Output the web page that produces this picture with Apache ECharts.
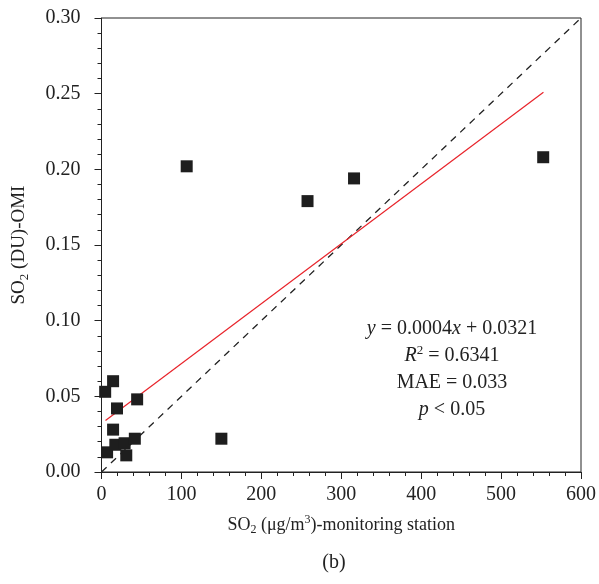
<!DOCTYPE html>
<html><head><meta charset="utf-8">
<script src="https://cdn.jsdelivr.net/npm/echarts@6/dist/echarts.min.js"></script>
<style>html,body{margin:0;padding:0;background:#fff}#c{width:599px;height:584px}</style>
</head><body><div id="c"></div>
<script>
// Observations: SO2 monitoring station (µg/m3) vs OMI SO2 (DU)
const stationX = [106.6, 257.8, 316, 552.7, 150, 14.5, 4.6, 44.6, 19.4, 14.5, 7, 17.3, 28.9, 31, 41.7];
const omiY     = [0.202, 0.179, 0.194, 0.208, 0.022, 0.060, 0.053, 0.048, 0.042, 0.028, 0.013, 0.018, 0.019, 0.011, 0.022];
// regression line endpoints (y = 0.0004x + 0.0321 as drawn)
const fitX = [5, 553];
const fitY = [0.034, 0.251];
// 1:1 reference line endpoints
const refX = [0, 600];
const refY = [0, 0.30];
const xTicks = [0, 100, 200, 300, 400, 500, 600];
const yTicks = [0.00, 0.05, 0.10, 0.15, 0.20, 0.25, 0.30];

const FONT = 'Liberation Serif';
const chart = echarts.init(document.getElementById('c'), null, {renderer: 'canvas'});
const pts = stationX.map((x, i) => [x, omiY[i]]);
const axisCommon = {
  axisLine: {show: true, onZero: false, lineStyle: {color: '#222', width: 1}},
  axisTick: {show: true, inside: false, length: 7, lineStyle: {color: '#222'}},
  minorTick: {show: true, splitNumber: 5, length: 4, lineStyle: {color: '#222'}},
  splitLine: {show: false},
  axisLabel: {color: '#222', fontFamily: FONT, fontSize: 20}
};
chart.setOption({
  animation: false,
  grid: {left: 101, right: 15, top: 18, bottom: 112, show: true, borderColor: '#222', borderWidth: 1},
  xAxis: Object.assign({}, axisCommon, {
    type: 'value', min: xTicks[0], max: xTicks[xTicks.length - 1], interval: 100,
    axisLabel: Object.assign({}, axisCommon.axisLabel, {margin: 13}),
    name: '{n|SO}{sub|2}{n| (μg/m}{sup|3}{n|)-monitoring station}',
    nameLocation: 'middle', nameGap: 42,
    nameTextStyle: {rich: {
      n: {fontFamily: FONT, fontSize: 18, color: '#222', lineHeight: 22},
      sub: {fontFamily: FONT, fontSize: 12, color: '#222', lineHeight: 22, padding: [10, 0, 0, 0]},
      sup: {fontFamily: FONT, fontSize: 12, color: '#222', lineHeight: 22, padding: [0, 0, 10, 0]}
    }}
  }),
  yAxis: Object.assign({}, axisCommon, {
    type: 'value', min: yTicks[0], max: yTicks[yTicks.length - 1], interval: 0.05,
    axisLabel: Object.assign({}, axisCommon.axisLabel, {margin: 21, formatter: v => v.toFixed(2)}),
    name: '{n|SO}{sub|2}{n| (DU)-OMI}',
    nameLocation: 'middle', nameGap: 71, nameRotate: 90,
    nameTextStyle: {rich: {
      n: {fontFamily: FONT, fontSize: 19, color: '#222', lineHeight: 22},
      sub: {fontFamily: FONT, fontSize: 13, color: '#222', lineHeight: 22, padding: [10, 0, 0, 0]}
    }}
  }),
  series: [
    {type: 'line', data: refX.map((x, i) => [x, refY[i]]), symbol: 'none',
     lineStyle: {color: '#222', width: 1.3, type: [7, 6]}, z: 2},
    {type: 'line', data: fitX.map((x, i) => [x, fitY[i]]), symbol: 'none',
     lineStyle: {color: '#e8242b', width: 1.2}, z: 3},
    {type: 'scatter', data: pts, symbol: 'rect', symbolSize: 12,
     itemStyle: {color: '#1e1e1e', opacity: 1}, z: 4}
  ],
  graphic: [
    {type: 'text', x: 452, y: 315, z: 10, style: {
      text: '{i|y} = 0.0004{i|x} + 0.0321\n{i|R}{sup|2} = 0.6341\nMAE = 0.033\n{i|p} < 0.05',
      align: 'center', verticalAlign: 'top', fill: '#222',
      font: '20px "Liberation Serif"', lineHeight: 27,
      rich: {
        i: {fontFamily: FONT, fontSize: 20, fontStyle: 'italic', lineHeight: 27},
        sup: {fontFamily: FONT, fontSize: 13, lineHeight: 27, padding: [0, 0, 10, 0]}
      }
    }},
    {type: 'text', x: 334, y: 563, z: 10, style: {
      text: '(b)', align: 'center', verticalAlign: 'middle', fill: '#222',
      font: '20px "Liberation Serif"'
    }}
  ]
});
</script></body></html>
